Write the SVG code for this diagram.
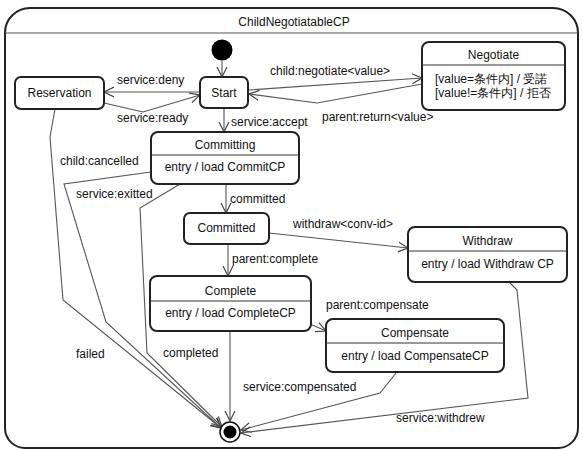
<svg xmlns="http://www.w3.org/2000/svg" width="583" height="450" viewBox="0 0 583 450">
<defs>
<marker id="arr" markerUnits="userSpaceOnUse" markerWidth="12" markerHeight="12" refX="10" refY="5" orient="auto" viewBox="0 0 12 10">
<path d="M0,0 L10,5 L0,10" fill="none" stroke="#444" stroke-width="1.2"/>
</marker>
</defs>
<style>
text{font-family:"Liberation Sans",Arial,sans-serif;font-size:12px;fill:#111}
.c{text-anchor:middle}
.box{fill:#fff;stroke:#222;stroke-width:2}
.sh{fill:none;stroke:#bbb;stroke-width:1.5}
.sep{stroke:#333;stroke-width:1}
.ln{fill:none;stroke:#555;stroke-width:1.1}
.ar{marker-end:url(#arr)}
</style>
<rect width="583" height="450" fill="#fff"/>
<g id="frame">
<path d="M5,33 A25,25 0 0 1 30,8 L553,8 A25,25 0 0 1 578,33 L578,428 A20,20 0 0 1 558,448 L25,448 A20,20 0 0 1 5,428 Z" fill="#fff" stroke="#222" stroke-width="2"/>
<line x1="5" y1="33" x2="578" y2="33" stroke="#555" stroke-width="1.2"/>
<text x="294" y="26" class="c">ChildNegotiatableCP</text>
</g>
<g id="connectors">
<path class="ln ar" d="M222,61 L222,77"/>
<path class="ln ar" d="M200,92 L104,92"/>
<path class="ln ar" d="M104,103 L143,112 L200,95"/>
<path class="ln ar" d="M249,90 L422,78"/>
<path class="ln ar" d="M422,84 L317,103 L249,94"/>
<path class="ln ar" d="M224,108 L224,132"/>
<path class="ln ar" d="M226,184 L226,213"/>
<path class="ln ar" d="M228,244 L228,276"/>
<path class="ln ar" d="M269,233 L408,248"/>
<path class="ln ar" d="M310,324 L326,331"/>
<path class="ln ar" d="M396,373 L380,393 L241,430"/>
<path class="ln ar" d="M510,283 L517,290 L528,398 L241,433"/>
<path class="ln ar" d="M55,109 L50,137 L63,300 L221,428"/>
<path class="ln ar" d="M151,172 L64,184 L106,322 L221,428"/>
<path class="ln ar" d="M180,184 L140,208 L147,353 L222,427"/>
<path class="ln ar" d="M230,331 L230,421"/>
<text x="117" y="84">service:deny</text>
<text x="117" y="122">service:ready</text>
<text x="270" y="75">child:negotiate&lt;value&gt;</text>
<text x="322" y="121">parent:return&lt;value&gt;</text>
<text x="231" y="126">service:accept</text>
<text x="230" y="203">committed</text>
<text x="232" y="263">parent:complete</text>
<text x="293" y="228">withdraw&lt;conv-id&gt;</text>
<text x="326" y="309">parent:compensate</text>
<text x="243" y="391">service:compensated</text>
<text x="396" y="422">service:withdrew</text>
<text x="76" y="358">failed</text>
<text x="60" y="165">child:cancelled</text>
<text x="76" y="198">service:exitted</text>
<text x="163" y="357">completed</text>
</g>
<g id="initial">
<circle cx="222" cy="50" r="10.5" fill="#000"/>
</g>
<g id="final">
<circle cx="230" cy="432" r="10" fill="#fff" stroke="#111" stroke-width="1.5"/>
<circle cx="230" cy="432" r="6.5" fill="#000"/>
</g>
<g id="start">
<rect x="200" y="77" width="48" height="31" rx="6" class="box"/>
<text x="224" y="97" class="c">Start</text>
</g>
<g id="reservation">
<rect x="15" y="77" width="89" height="32" rx="6" class="box"/>
<text x="59.5" y="97" class="c">Reservation</text>
</g>
<g id="negotiate">
<rect x="422" y="42" width="143" height="68" rx="7" class="box"/>
<line x1="422" y1="65" x2="565" y2="65" class="sep"/>
<text x="493.5" y="59" class="c">Negotiate</text>
<text x="435" y="83" font-family="'Liberation Sans','Noto Sans CJK JP',sans-serif">[value=条件内] / 受諾</text>
<text x="435" y="97" font-family="'Liberation Sans','Noto Sans CJK JP',sans-serif">[value!=条件内] / 拒否</text>
</g>
<g id="committing">
<rect x="151" y="132" width="148" height="52" rx="7" class="box"/>
<line x1="151" y1="155" x2="299" y2="155" class="sep"/>
<text x="225" y="149" class="c">Committing</text>
<text x="225" y="171" class="c">entry / load CommitCP</text>
</g>
<g id="committed">
<rect x="184" y="213" width="85" height="31" rx="6" class="box"/>
<text x="226.5" y="232" class="c">Committed</text>
</g>
<g id="withdraw">
<rect x="408" y="227" width="159" height="55" rx="7" class="box"/>
<line x1="408" y1="251" x2="567" y2="251" class="sep"/>
<text x="487.5" y="245" class="c">Withdraw</text>
<text x="487.5" y="268" class="c">entry / load Withdraw CP</text>
</g>
<g id="complete">
<rect x="150" y="276" width="161" height="55" rx="7" class="box"/>
<line x1="150" y1="301" x2="311" y2="301" class="sep"/>
<text x="230.5" y="295" class="c">Complete</text>
<text x="230.5" y="317" class="c">entry / load CompleteCP</text>
</g>
<g id="compensate">
<rect x="326" y="319" width="178" height="53" rx="7" class="box"/>
<line x1="326" y1="343" x2="504" y2="343" class="sep"/>
<text x="415" y="337" class="c">Compensate</text>
<text x="415" y="360" class="c">entry / load CompensateCP</text>
</g>
</svg>
